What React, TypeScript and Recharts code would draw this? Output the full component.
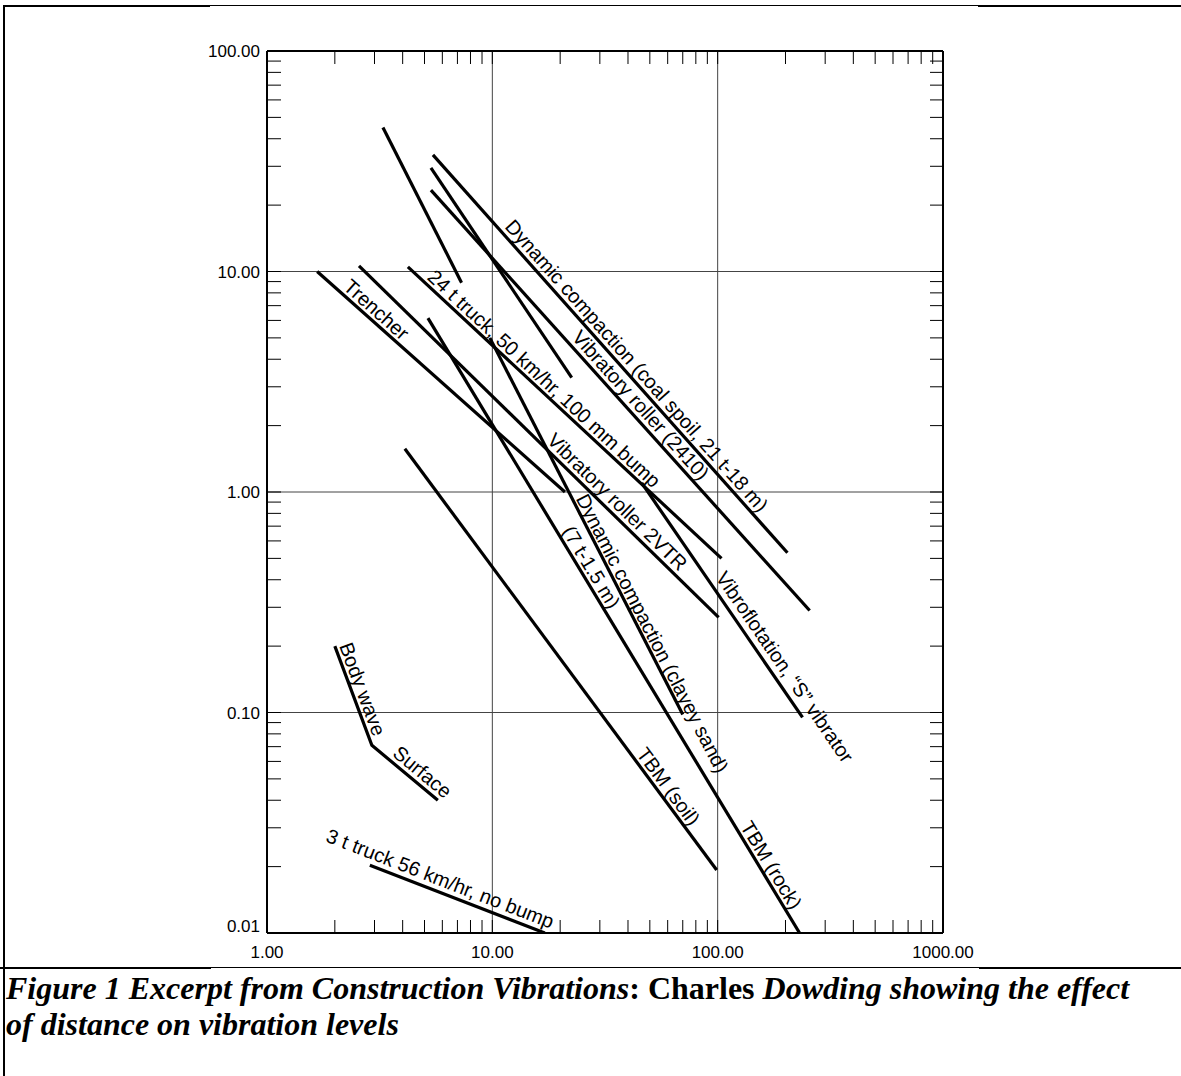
import React from "react";
import { LineChart, Line, XAxis, YAxis, ReferenceLine } from "recharts";

type Pt = { x: number; y: number };

// distance (m) vs peak particle velocity (mm/s)
const steepShortA: Pt[] = [{ x: 3.27, y: 45 }, { x: 7.3, y: 8.9 }];
const steepShortB: Pt[] = [{ x: 5.34, y: 29.5 }, { x: 22.5, y: 3.3 }];
const coalSpoil: Pt[] = [{ x: 5.45, y: 33.8 }, { x: 204, y: 0.53 }];
const roller2410: Pt[] = [{ x: 5.34, y: 23.4 }, { x: 256, y: 0.29 }];
const trencher: Pt[] = [{ x: 1.67, y: 10 }, { x: 21, y: 1.0 }];
const roller2VTR: Pt[] = [{ x: 2.56, y: 10.6 }, { x: 101, y: 0.27 }];
const truck24: Pt[] = [{ x: 4.22, y: 10.5 }, { x: 104, y: 0.5 }];
const tbmRock: Pt[] = [{ x: 5.18, y: 6.15 }, { x: 231, y: 0.01 }];
const claySand: Pt[] = [{ x: 9.75, y: 5.0 }, { x: 70, y: 0.098 }];
const vibroflotation: Pt[] = [{ x: 46, y: 1.1 }, { x: 238, y: 0.095 }];
const tbmSoil: Pt[] = [{ x: 4.09, y: 1.57 }, { x: 99, y: 0.0193 }];
const bodySurface: Pt[] = [
  { x: 2.0, y: 0.2 },
  { x: 2.92, y: 0.071 },
  { x: 5.73, y: 0.04 },
];
const truck3: Pt[] = [{ x: 2.86, y: 0.0203 }, { x: 17.1, y: 0.01 }];

const xTicks = [
  1, 2, 3, 4, 5, 6, 7, 8, 9, 10, 20, 30, 40, 50, 60, 70, 80, 90, 100, 200,
  300, 400, 500, 600, 700, 800, 900, 1000,
];
const yTicks = [
  0.01, 0.02, 0.03, 0.04, 0.05, 0.06, 0.07, 0.08, 0.09, 0.1, 0.2, 0.3, 0.4,
  0.5, 0.6, 0.7, 0.8, 0.9, 1, 2, 3, 4, 5, 6, 7, 8, 9, 10, 20, 30, 40, 50, 60,
  70, 80, 90, 100,
];
const xMajor = [1, 10, 100, 1000];
const xMajorLabels = ["1.00", "10.00", "100.00", "1000.00"];
const yMajor = [0.01, 0.1, 1, 10, 100];
const yMajorLabels = ["0.01", "0.10", "1.00", "10.00", "100.00"];
const xGrid = [10, 100];
const yGrid = [0.1, 1, 10];

// label placement: segment, fraction along it, baseline gap from the line
type LabelSpec = { text: string; seg: number; t: number; off: number };

const SANS = "'Liberation Sans', Arial, Helvetica, sans-serif";
const SERIF = "'Liberation Serif', 'Times New Roman', serif";

const makeLabelDot = (labels: LabelSpec[]) => (props: any) => {
  const { index, points } = props;
  if (index !== 0 || !points) return <g key={`d${index}`} />;
  return (
    <g key="lbl">
      {labels.map((l, i) => {
        const p0 = points[l.seg];
        const p1 = points[l.seg + 1];
        const dx = p1.x - p0.x;
        const dy = p1.y - p0.y;
        const ang = (Math.atan2(dy, dx) * 180) / Math.PI;
        const px = p0.x + dx * l.t;
        const py = p0.y + dy * l.t;
        return (
          <text
            key={i}
            transform={`translate(${px},${py}) rotate(${ang})`}
            x={0}
            y={-l.off}
            fontSize={20}
            fontFamily={SANS}
            fill="#000"
          >
            {l.text}
          </text>
        );
      })}
    </g>
  );
};

const BottomTick = (props: any) => {
  const { x, y, payload } = props;
  const i = xMajor.indexOf(payload.value);
  return (
    <g>
      <line x1={x} y1={y} x2={x} y2={y - 13} stroke="#000" strokeWidth={1} />
      {i >= 0 && (
        <text x={x} y={y + 25} textAnchor="middle" fontSize={17} fontFamily={SANS} fill="#000">
          {xMajorLabels[i]}
        </text>
      )}
    </g>
  );
};

const TopTick = (props: any) => {
  const { x, y } = props;
  return <line x1={x} y1={y} x2={x} y2={y + 13} stroke="#000" strokeWidth={1} />;
};

const LeftTick = (props: any) => {
  const { x, y, payload } = props;
  const i = yMajor.indexOf(payload.value);
  return (
    <g>
      <line x1={x} y1={y} x2={x + 14} y2={y} stroke="#000" strokeWidth={1} />
      {i >= 0 && (
        <text
          x={x - 7}
          y={y + (i === 0 ? -1 : 6)}
          textAnchor="end"
          fontSize={17}
          fontFamily={SANS}
          fill="#000"
        >
          {yMajorLabels[i]}
        </text>
      )}
    </g>
  );
};

const RightTick = (props: any) => {
  const { x, y } = props;
  return <line x1={x} y1={y} x2={x - 13} y2={y} stroke="#000" strokeWidth={1} />;
};

const series: { data: Pt[]; labels?: LabelSpec[] }[] = [
  { data: steepShortA },
  { data: steepShortB },
  {
    data: coalSpoil,
    labels: [{ text: "Dynamic compaction (coal spoil, 21 t-18 m)", seg: 0, t: 0.19, off: 5 }],
  },
  { data: roller2410, labels: [{ text: "Vibratory roller (2410)", seg: 0, t: 0.36, off: 5 }] },
  { data: trencher, labels: [{ text: "Trencher", seg: 0, t: 0.09, off: 4 }] },
  { data: roller2VTR, labels: [{ text: "Vibratory roller 2VTR", seg: 0, t: 0.51, off: 5 }] },
  {
    data: truck24,
    labels: [{ text: "24 t truck, 50 km/hr, 100 mm bump", seg: 0, t: 0.05, off: 4 }],
  },
  {
    data: tbmRock,
    labels: [
      { text: "(7 t-1.5 m)", seg: 0, t: 0.35, off: 4 },
      { text: "TBM (rock)", seg: 0, t: 0.83, off: 4 },
    ],
  },
  {
    data: claySand,
    labels: [{ text: "Dynamic compaction (clayey sand)", seg: 0, t: 0.43, off: 3 }],
  },
  {
    data: vibroflotation,
    labels: [{ text: "Vibroflotation, \u201CS\u201D vibrator", seg: 0, t: 0.42, off: 7 }],
  },
  { data: tbmSoil, labels: [{ text: "TBM (soil)", seg: 0, t: 0.73, off: 4 }] },
  {
    data: bodySurface,
    labels: [
      { text: "Body wave", seg: 0, t: 0.01, off: 4 },
      { text: "Surface", seg: 1, t: 0.25, off: 5 },
    ],
  },
  { data: truck3, labels: [{ text: "3 t truck 56 km/hr, no bump", seg: 0, t: -0.27, off: 6 }] },
];

const axisLine = { stroke: "#000", strokeWidth: 2 };

export default function App() {
  return (
    <div style={{ position: "relative", width: 1181, height: 1076, background: "#fff", overflow: "hidden" }}>
      <style>{"body{margin:0;background:#fff}"}</style>

      {/* frame of the document cell */}
      <div style={{ position: "absolute", left: 4, top: 5, width: 1177, height: 1, background: "#000" }} />
      <div style={{ position: "absolute", left: 4, top: 5, width: 206, height: 2, background: "#000" }} />
      <div style={{ position: "absolute", left: 978, top: 5, width: 203, height: 2, background: "#000" }} />
      <div style={{ position: "absolute", left: 3, top: 5, width: 2, height: 1071, background: "#000" }} />
      <div style={{ position: "absolute", left: 0, top: 967, width: 1181, height: 1, background: "#000" }} />
      <div style={{ position: "absolute", left: 0, top: 967, width: 211, height: 2, background: "#000" }} />
      <div style={{ position: "absolute", left: 979, top: 967, width: 202, height: 2, background: "#000" }} />

      <div style={{ position: "absolute", left: 0, top: 0 }}>
        <LineChart width={1181} height={966} margin={{ top: 41, right: 228, bottom: 3, left: 207 }}>
          <XAxis
            dataKey="x"
            type="number"
            scale="log"
            domain={[1, 1000]}
            allowDataOverflow
            ticks={xTicks}
            interval={0}
            height={30}
            tickSize={0}
            tickMargin={0}
            axisLine={axisLine}
            tickLine={false}
            tick={<BottomTick />}
          />
          <XAxis
            xAxisId="top"
            orientation="top"
            dataKey="x"
            type="number"
            scale="log"
            domain={[1, 1000]}
            allowDataOverflow
            ticks={xTicks}
            interval={0}
            height={10}
            tickSize={0}
            tickMargin={0}
            axisLine={axisLine}
            tickLine={false}
            tick={<TopTick />}
          />
          <YAxis
            type="number"
            scale="log"
            domain={[0.01, 100]}
            allowDataOverflow
            ticks={yTicks}
            interval={0}
            width={60}
            tickSize={0}
            tickMargin={0}
            axisLine={axisLine}
            tickLine={false}
            tick={<LeftTick />}
          />
          <YAxis
            yAxisId="right"
            orientation="right"
            type="number"
            scale="log"
            domain={[0.01, 100]}
            allowDataOverflow
            ticks={yTicks}
            interval={0}
            width={10}
            tickSize={0}
            tickMargin={0}
            axisLine={axisLine}
            tickLine={false}
            tick={<RightTick />}
          />

          {xGrid.map((v) => (
            <ReferenceLine key={`gx${v}`} x={v} stroke="#444" strokeWidth={1} />
          ))}
          {yGrid.map((v) => (
            <ReferenceLine key={`gy${v}`} y={v} stroke="#444" strokeWidth={1} />
          ))}

          {/* keeps the top / right frame axes tied to a series */}
          <Line
            xAxisId="top"
            yAxisId="right"
            data={truck3}
            dataKey="y"
            stroke="transparent"
            dot={false}
            activeDot={false}
            isAnimationActive={false}
          />

          {series.map((s, i) => (
            <Line
              key={i}
              data={s.data}
              dataKey="y"
              type="linear"
              stroke="#000"
              strokeWidth={3.2}
              dot={s.labels ? makeLabelDot(s.labels) : false}
              activeDot={false}
              isAnimationActive={false}
            />
          ))}
        </LineChart>
      </div>

      <div
        style={{
          position: "absolute",
          left: 6,
          top: 970,
          whiteSpace: "nowrap",
          fontFamily: SERIF,
          fontSize: 32,
          lineHeight: "36px",
          fontWeight: "bold",
          fontStyle: "italic",
          color: "#000",
        }}
      >
        Figure 1 Excerpt from Construction Vibrations
        <span style={{ fontStyle: "normal" }}>: Charles </span>
        Dowding showing the effect
        <br />
        of distance on vibration levels
      </div>
    </div>
  );
}
